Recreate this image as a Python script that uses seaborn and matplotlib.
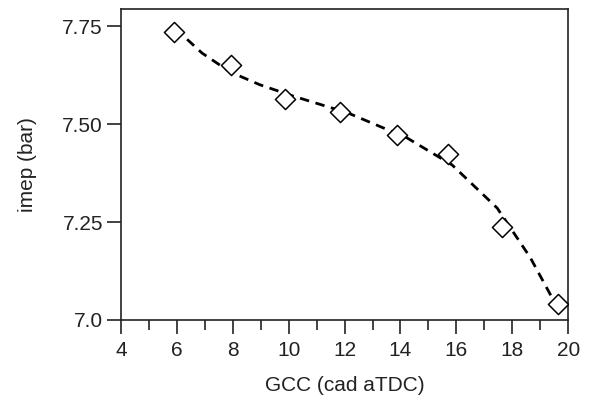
import numpy as np
import seaborn as sns
import matplotlib.pyplot as plt
from matplotlib.ticker import MultipleLocator

# Measured points (diamonds)
gcc = [5.90, 7.94, 9.87, 11.84, 13.88, 15.70, 17.64, 19.64]
imep = [7.736, 7.652, 7.565, 7.532, 7.473, 7.424, 7.237, 7.042]

# Smoothed trend curve (dashed)
fit_gcc = [5.90, 6.11, 6.90, 7.90, 8.97, 10.12, 12.12, 14.24, 15.85, 17.46, 18.64, 19.53, 19.64]
fit_imep = [7.740, 7.734, 7.682, 7.634, 7.601, 7.573, 7.529, 7.465, 7.396, 7.286, 7.160, 7.043, 7.030]

ytick_vals = [7.0, 7.25, 7.5, 7.75]
ytick_labels = ["7.0", "7.25", "7.50", "7.75"]

sns.set_style("ticks")
plt.rcParams['font.family'] = ['Liberation Sans', 'DejaVu Sans']

fig = plt.figure(figsize=(5.9, 4.01), dpi=100)
ax = fig.add_axes([0.205, 0.202, 0.758, 0.776])

sns.lineplot(x=fit_gcc, y=fit_imep, ax=ax, color="black", lw=2.0,
             linestyle=(0, (3.4, 2.4)), sort=False)
sns.scatterplot(x=gcc, y=imep, ax=ax, marker="D", s=105, facecolor="white",
                edgecolor="black", linewidth=1.1, zorder=3)

ax.set_xlim(4, 20)
ax.set_ylim(7.0, 7.795)
ax.set_xticks(range(4, 21, 2))
ax.xaxis.set_minor_locator(MultipleLocator(1))
ax.set_yticks(ytick_vals)
ax.set_yticklabels(ytick_labels)

for s in ax.spines.values():
    s.set_linewidth(1.2)
    s.set_color("#222222")
ax.tick_params(axis="both", which="major", length=10, width=1.2, labelsize=15,
               color="#222222", labelcolor="#222222", pad=3)
ax.tick_params(axis="x", which="major", pad=5)
ax.tick_params(axis="x", which="minor", length=7, width=1.2, color="#222222")

ax.set_xlabel("GCC (cad aTDC)", fontsize=15, labelpad=12, color="#222222")
ax.set_ylabel("imep (bar)", fontsize=15, labelpad=18, color="#222222")

fig.savefig("out.png", dpi=100)
